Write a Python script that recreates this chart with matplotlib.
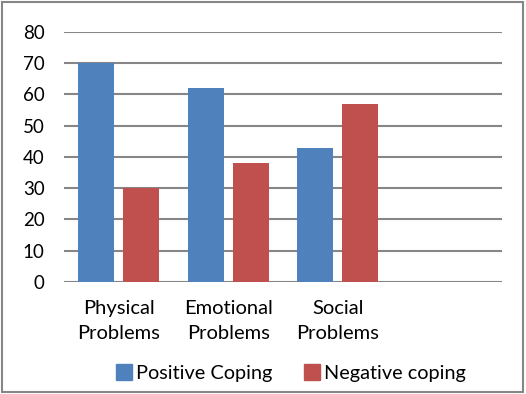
import matplotlib.pyplot as plt
from matplotlib.patches import Patch, Rectangle

categories = ["Physical\nProblems", "Emotional\nProblems", "Social\nProblems", ""]
positive = [70, 62, 43]
negative = [30, 38, 57]
yticks = [0, 10, 20, 30, 40, 50, 60, 70, 80]

BLUE = "#4F81BD"
RED = "#C0504D"
GRID = "#868686"

plt.rcParams['font.family'] = ['Lato', 'DejaVu Sans']

fig = plt.figure(figsize=(5.26, 3.94), dpi=100)
ax = fig.add_axes([0.1217, 0.2843, 0.8327, 0.6345])

x = list(range(len(positive)))
w = 0.33
ax.bar([i - 0.207 for i in x], positive, width=w, color=BLUE, zorder=3)
ax.bar([i + 0.205 for i in x], negative, width=w, color=RED, zorder=3)

ax.set_xlim(-0.5, 3.5)
ax.set_ylim(0, 80)
ax.set_yticks(yticks)
ax.set_xticks(range(len(categories)))
ax.set_xticklabels(categories, fontsize=14.5, linespacing=1.6)
ax.tick_params(axis='y', length=0, pad=14, labelsize=13.5)
ax.tick_params(axis='x', length=0, pad=13)
ax.grid(axis='y', color=GRID, linewidth=1.5, zorder=0)
ax.set_axisbelow(True)
for s in ax.spines.values():
    s.set_visible(False)

handles = [Patch(color=BLUE), Patch(color=RED)]
fig.legend(handles, ["Positive Coping", "Negative coping"], loc='center',
           bbox_to_anchor=(0.553, 0.053), ncol=2, frameon=False, fontsize=14.3,
           handlelength=0.8, handleheight=0.8, handletextpad=0.2, columnspacing=1.6)

# outer border
fig.patches.append(Rectangle((0.004, 0.004), 0.99, 0.992, transform=fig.transFigure,
                             fill=False, edgecolor=GRID, linewidth=1.5))

fig.savefig("out.png", dpi=100)
